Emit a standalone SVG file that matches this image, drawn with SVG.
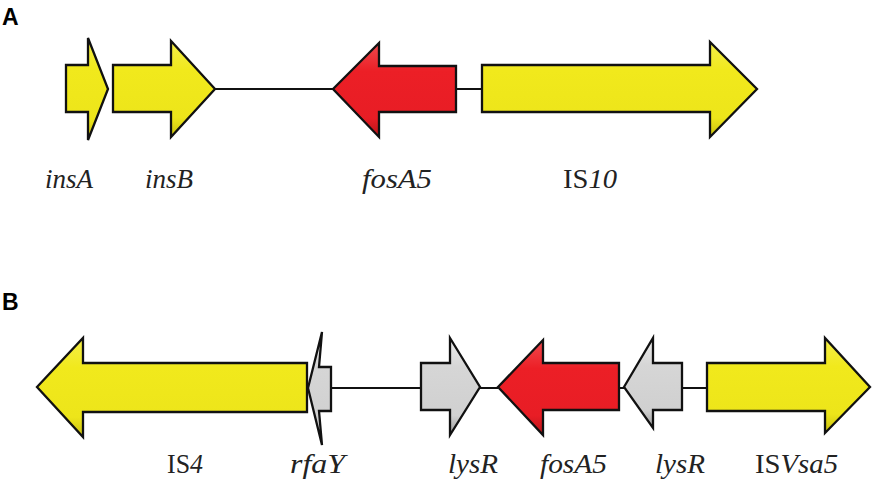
<svg xmlns="http://www.w3.org/2000/svg" width="886" height="483" viewBox="0 0 886 483">
<style>
.gene{stroke:#111;stroke-width:2.3;stroke-linejoin:miter}
.y{fill:url(#gy)}
.r{fill:url(#gr)}
.g{fill:url(#gg)}
.lbl{font-family:'Liberation Serif','DejaVu Serif',serif;font-size:27px;font-style:italic;fill:#222}
.up{font-style:normal}
.panel{font-family:'Liberation Sans',sans-serif;font-size:23px;font-weight:bold;fill:#000}
.con{stroke:#111;stroke-width:2;fill:none}
</style>
<defs>
<linearGradient id="gy" x1="0" y1="0" x2="0" y2="1">
<stop offset="0" stop-color="#f4ee4a"/><stop offset="0.3" stop-color="#f1e91c"/><stop offset="0.8" stop-color="#ede51a"/><stop offset="1" stop-color="#c9c010"/>
</linearGradient>
<linearGradient id="gr" x1="0" y1="0" x2="0" y2="1">
<stop offset="0" stop-color="#f04a4e"/><stop offset="0.3" stop-color="#ec1f26"/><stop offset="0.8" stop-color="#e81d25"/><stop offset="1" stop-color="#b81519"/>
</linearGradient>
<linearGradient id="gg" x1="0" y1="0" x2="0" y2="1">
<stop offset="0" stop-color="#ececec"/><stop offset="0.3" stop-color="#d6d6d6"/><stop offset="0.8" stop-color="#d0d0d0"/><stop offset="1" stop-color="#9a9a9a"/>
</linearGradient>
</defs>
<rect width="886" height="483" fill="#fff"/>
<text class="panel" x="2" y="25">A</text>
<text class="panel" x="2" y="310">B</text>
<g id="connectors">
<line class="con" x1="215" y1="89" x2="333" y2="89"/>
<line class="con" x1="456" y1="89" x2="482" y2="89"/>
<line class="con" x1="331" y1="388" x2="421" y2="388"/>
<line class="con" x1="480" y1="388" x2="498" y2="388"/>
<line class="con" x1="619" y1="388" x2="624" y2="388"/>
<line class="con" x1="682" y1="388" x2="707" y2="388"/>
</g>
<g id="A-insA"><polygon class="gene y" points="66,65 88,65 88,38 108,89 88,140 88,112 66,112"/><text class="lbl" x="45" y="188" textLength="48" lengthAdjust="spacingAndGlyphs">insA</text></g>
<g id="A-insB"><polygon class="gene y" points="113,65 171,65 171,41 215,89 171,137 171,112 113,112"/><text class="lbl" x="145" y="188" textLength="48" lengthAdjust="spacingAndGlyphs">insB</text></g>
<g id="A-fosA5"><polygon class="gene r" points="333,89 379,43 379,66 456,66 456,112 379,112 379,137"/><text class="lbl" x="362" y="188" textLength="70" lengthAdjust="spacingAndGlyphs">fosA5</text></g>
<g id="A-IS10"><polygon class="gene y" points="482,65 710,65 710,42 757,89 710,137 710,112 482,112"/><text class="lbl" x="563" y="188" textLength="54" lengthAdjust="spacingAndGlyphs"><tspan class="up">IS</tspan>10</text></g>
<g id="B-IS4"><polygon class="gene y" points="37,387 83,338 83,363 307,363 307,412 83,412 83,437"/><text class="lbl" x="167" y="473" textLength="36" lengthAdjust="spacingAndGlyphs"><tspan class="up">IS</tspan>4</text></g>
<g id="B-rfaY"><polygon class="gene g" points="331,367 319,367 322,332 308,388 322,445 319,411 331,411"/><text class="lbl" x="290" y="473" textLength="55" lengthAdjust="spacingAndGlyphs">rfaY</text></g>
<g id="B-lysR1"><polygon class="gene g" points="421,363 450,363 450,338 480,387 450,435 450,410 421,410"/><text class="lbl" x="448" y="473" textLength="50" lengthAdjust="spacingAndGlyphs">lysR</text></g>
<g id="B-fosA5"><polygon class="gene r" points="498,387 543,340 543,363 619,363 619,410 543,410 543,435"/><text class="lbl" x="540" y="473" textLength="67" lengthAdjust="spacingAndGlyphs">fosA5</text></g>
<g id="B-lysR2"><polygon class="gene g" points="624,387 653,338 653,363 682,363 682,410 653,410 653,428"/><text class="lbl" x="655" y="473" textLength="50" lengthAdjust="spacingAndGlyphs">lysR</text></g>
<g id="B-ISVsa5"><polygon class="gene y" points="707,363 825,363 825,338 870,387 825,433 825,411 707,411"/><text class="lbl" x="755" y="473" textLength="83" lengthAdjust="spacingAndGlyphs"><tspan class="up">IS</tspan>Vsa5</text></g>
</svg>
